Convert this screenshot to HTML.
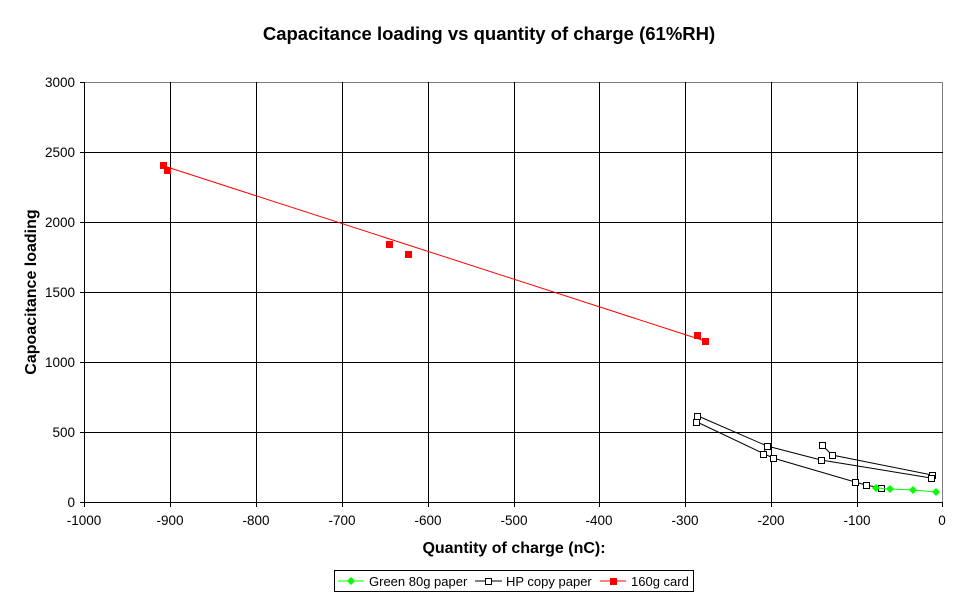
<!DOCTYPE html>
<html><head><style>body{margin:0;background:#fff}</style></head><body>
<svg width="977" height="600" xmlns="http://www.w3.org/2000/svg" font-family="Liberation Sans, Arial, sans-serif">
<rect width="977" height="600" fill="#fff"/>
<text x="489" y="40" text-anchor="middle" font-size="18.5" font-weight="bold">Capacitance loading vs quantity of charge (61%RH)</text>
<g stroke="#000" stroke-width="1">
<line x1="84" y1="82.5" x2="943" y2="82.5" stroke="#808080"/>
<line x1="942.5" y1="82" x2="942.5" y2="502" stroke="#808080"/>
<line x1="84" y1="152.5" x2="943" y2="152.5"/>
<line x1="84" y1="222.5" x2="943" y2="222.5"/>
<line x1="84" y1="292.5" x2="943" y2="292.5"/>
<line x1="84" y1="362.5" x2="943" y2="362.5"/>
<line x1="84" y1="432.5" x2="943" y2="432.5"/>
<line x1="84" y1="502.5" x2="943" y2="502.5"/>
<line x1="84.5" y1="82" x2="84.5" y2="507"/>
<line x1="170.5" y1="82" x2="170.5" y2="507"/>
<line x1="256.5" y1="82" x2="256.5" y2="507"/>
<line x1="342.5" y1="82" x2="342.5" y2="507"/>
<line x1="428.5" y1="82" x2="428.5" y2="507"/>
<line x1="514.5" y1="82" x2="514.5" y2="507"/>
<line x1="599.5" y1="82" x2="599.5" y2="507"/>
<line x1="685.5" y1="82" x2="685.5" y2="507"/>
<line x1="771.5" y1="82" x2="771.5" y2="507"/>
<line x1="857.5" y1="82" x2="857.5" y2="507"/>
<line x1="942.5" y1="502" x2="942.5" y2="507"/>
<line x1="80" y1="82.5" x2="84" y2="82.5"/><line x1="80" y1="152.5" x2="84" y2="152.5"/><line x1="80" y1="222.5" x2="84" y2="222.5"/><line x1="80" y1="292.5" x2="84" y2="292.5"/><line x1="80" y1="362.5" x2="84" y2="362.5"/><line x1="80" y1="432.5" x2="84" y2="432.5"/><line x1="80" y1="502.5" x2="84" y2="502.5"/>
</g>
<g font-size="13.5" text-anchor="end">
<text x="75" y="87">3000</text><text x="75" y="157">2500</text><text x="75" y="227">2000</text><text x="75" y="297">1500</text><text x="75" y="367">1000</text><text x="75" y="437">500</text><text x="75" y="507">0</text>
</g>
<g font-size="13.5" text-anchor="middle">
<text x="84" y="525">-1000</text><text x="170" y="525">-900</text><text x="256" y="525">-800</text><text x="342" y="525">-700</text><text x="428" y="525">-600</text><text x="514" y="525">-500</text><text x="599" y="525">-400</text><text x="685" y="525">-300</text><text x="771" y="525">-200</text><text x="857" y="525">-100</text><text x="942" y="525">0</text>
</g>
<text x="514" y="553" text-anchor="middle" font-size="16" font-weight="bold">Quantity of charge (nC):</text>
<text transform="translate(36,292) rotate(-90)" text-anchor="middle" font-size="16" font-weight="bold">Capoacitance loading</text>
<!-- red -->
<line x1="164" y1="166" x2="705" y2="341" stroke="#f00"/>
<g fill="#f00">
<rect x="160" y="162" width="7" height="7"/><rect x="164" y="167" width="7" height="7"/><rect x="386" y="241" width="7" height="7"/><rect x="405" y="251" width="7" height="7"/><rect x="694" y="332" width="7" height="7"/><rect x="702" y="338" width="7" height="7"/>
</g>
<!-- HP -->
<g fill="none" stroke="#000">
<polyline points="697,422 773,458 855,482 866,485 881,488"/>
<polyline points="698,416 767,446 821,460 931,478"/>
<polyline points="822,445 832,455 932,475"/>
<polyline points="763,454 767,446"/>
</g>
<g fill="#fff" stroke="#000">
<rect x="694.5" y="413.5" width="6" height="6"/><rect x="693.5" y="419.5" width="6" height="6"/><rect x="764.5" y="443.5" width="6" height="6"/><rect x="760.5" y="451.5" width="6" height="6"/><rect x="770.5" y="455.5" width="6" height="6"/><rect x="819.5" y="442.5" width="6" height="6"/><rect x="829.5" y="452.5" width="6" height="6"/><rect x="818.5" y="457.5" width="6" height="6"/><rect x="852.5" y="479.5" width="6" height="6"/><rect x="863.5" y="482.5" width="6" height="6"/><rect x="878.5" y="485.5" width="6" height="6"/><rect x="929.5" y="472.5" width="6" height="6"/><rect x="928.5" y="475.5" width="6" height="6"/>
</g>
<!-- green -->
<polyline points="876,488 890,489 913,490 936,492" fill="none" stroke="#0f0"/>
<g fill="#0f0">
<path d="M876,484l4,4l-4,4l-4,-4z"/><path d="M890,485l4,4l-4,4l-4,-4z"/><path d="M913,486l4,4l-4,4l-4,-4z"/><path d="M936,488l4,4l-4,4l-4,-4z"/>
</g>
<!-- legend -->
<rect x="334.5" y="570.5" width="359" height="21" fill="#fff" stroke="#000"/>
<line x1="338" y1="581" x2="364" y2="581" stroke="#0f0"/><path d="M351,577l4,4l-4,4l-4,-4z" fill="#0f0"/>
<text x="369" y="586" font-size="13">Green 80g paper</text>
<line x1="475" y1="581" x2="502" y2="581" stroke="#000"/><rect x="485.5" y="578.5" width="6" height="6" fill="#fff" stroke="#000"/>
<text x="506" y="586" font-size="13">HP copy paper</text>
<line x1="600" y1="581" x2="626" y2="581" stroke="#f00"/><rect x="610" y="578" width="7" height="7" fill="#f00"/>
<text x="631" y="586" font-size="13">160g card</text>
</svg>
</body></html>
